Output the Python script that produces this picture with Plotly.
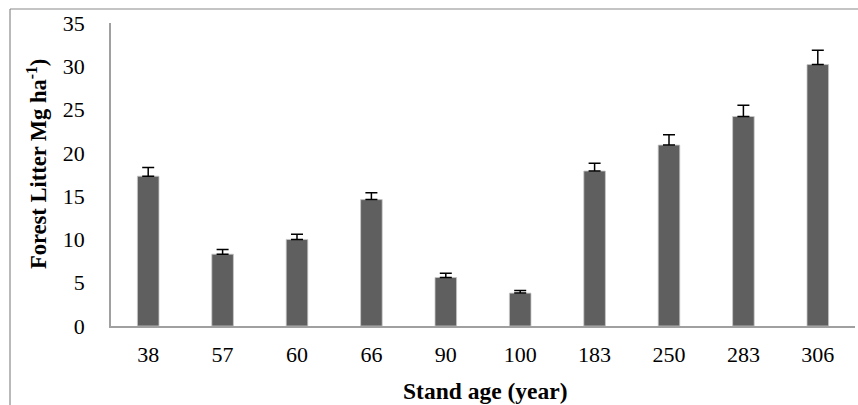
import plotly.graph_objects as go

categories = ["38", "57", "60", "66", "90", "100", "183", "250", "283", "306"]
litter = [17.3, 8.3, 10.0, 14.6, 5.6, 3.8, 17.9, 20.9, 24.2, 30.2]
errors = [1.0, 0.55, 0.6, 0.8, 0.5, 0.3, 0.9, 1.2, 1.3, 1.65]
y_ticks = [0, 5, 10, 15, 20, 25, 30, 35]

W, H = 858, 405
L, R, T, B = 111, 3, 23, 79
pw, ph = W - L - R, H - T - B

def px(x):
    return (x - L) / pw

def py(y):
    return (H - B - y) / ph

fig = go.Figure()
fig.add_trace(go.Bar(
    x=categories, y=litter,
    width=0.29,
    marker=dict(color="#5f5f5f", line=dict(color="#c8c8c8", width=0.8)),
    error_y=dict(type="data", array=errors, symmetric=False, arrayminus=[0]*len(errors),
                 color="#000000", thickness=1.5, width=6),
))

font = "Liberation Serif, Times New Roman, serif"
fig.update_layout(
    width=W, height=H,
    margin=dict(l=L, r=R, t=T, b=B),
    paper_bgcolor="white", plot_bgcolor="white",
    showlegend=False,
    font=dict(family=font, size=22, color="#000000"),
    bargap=0.71,
    xaxis=dict(
        type="category",
        showline=True, linecolor="#a0a0a0", linewidth=1.5,
        showgrid=False, ticks="", ticklabelstandoff=8,
        tickfont=dict(family=font, size=22),
    ),
    yaxis=dict(
        range=[0, 35], tickvals=y_ticks,
        showline=True, linecolor="#a0a0a0", linewidth=1.5,
        showgrid=False, zeroline=False, ticks="", ticklabelstandoff=20,
        tickfont=dict(family=font, size=22),
    ),
    shapes=[
        dict(type="line", xref="paper", yref="paper", x0=px(10), x1=px(870), y0=py(9), y1=py(9),
             line=dict(color="#8a8a8a", width=1.2)),
        dict(type="line", xref="paper", yref="paper", x0=px(10), x1=px(10), y0=py(9), y1=py(420),
             line=dict(color="#8a8a8a", width=1.2)),
    ],
    annotations=[
        dict(text="<b>Forest Litter Mg ha<sup>-1</sup>)</b>", xref="paper", yref="paper",
             x=px(37), y=py(164), textangle=-90, showarrow=False,
             font=dict(family=font, size=22.5), xanchor="center", yanchor="middle"),
        dict(text="<b>Stand age (year)</b>", xref="paper", yref="paper",
             x=px(485), y=py(391), showarrow=False,
             font=dict(family=font, size=23.5), xanchor="center", yanchor="middle"),
    ],
)

fig.write_html("out.html", config={"displayModeBar": False},
               post_script="document.body.style.margin='0px';document.body.style.overflow='hidden';")
